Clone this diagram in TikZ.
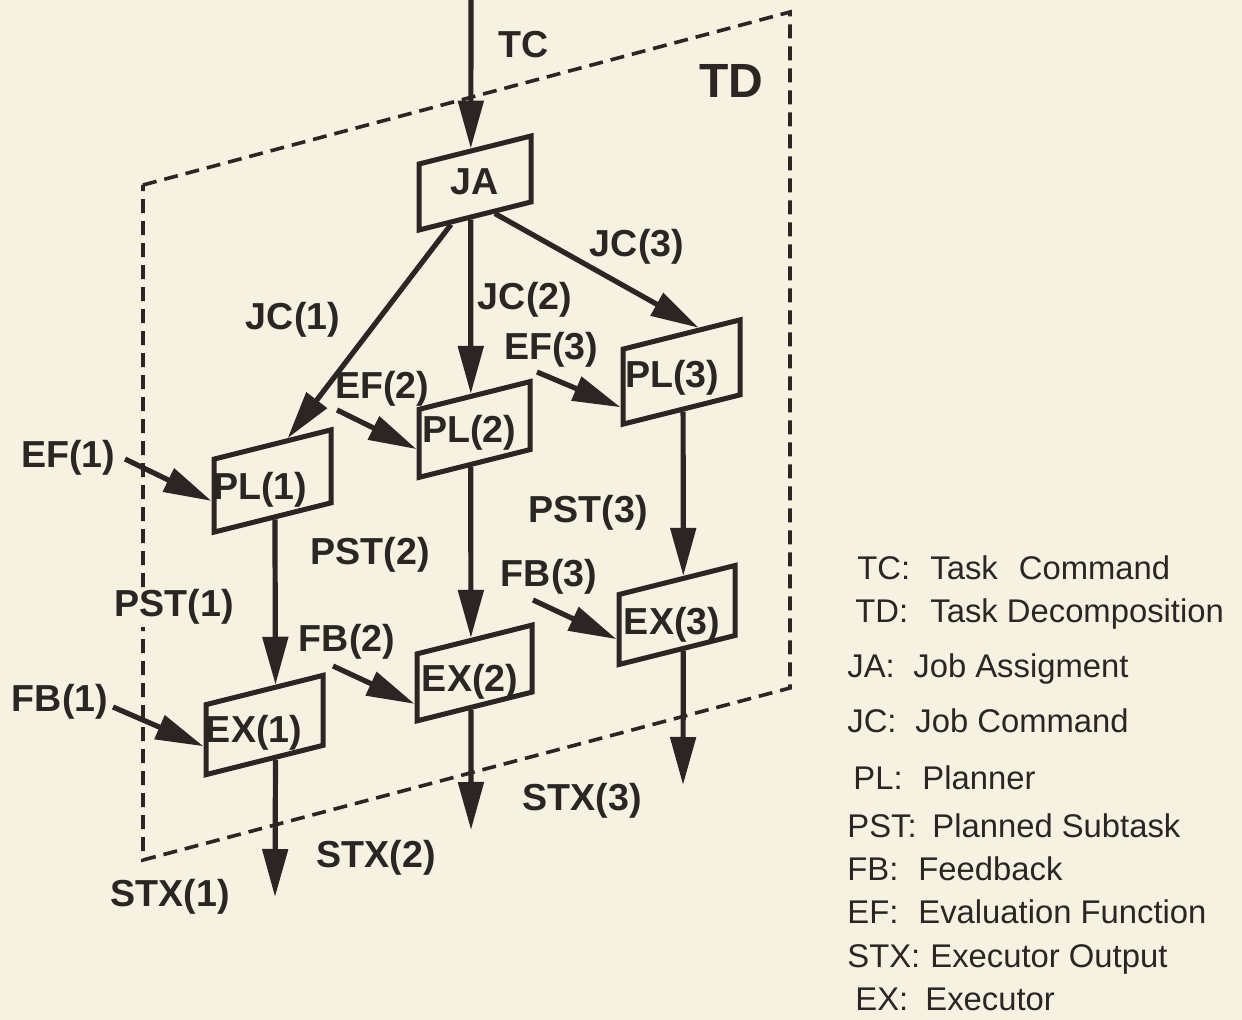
\documentclass[tikz,border=0pt]{standalone}
\usepackage{fontspec}
\setmainfont{Liberation Sans}
\usetikzlibrary{arrows.meta,calc}
\definecolor{bg}{HTML}{F6F2E1}
\definecolor{ink}{HTML}{2B2623}
\begin{document}
\begin{tikzpicture}[x=0.5pt,y=-0.5pt,
  lbl/.style={font=\fontsize{18.8}{20}\selectfont\bfseries, text=ink, inner sep=1pt, anchor=base, fill=bg},
  boxtext/.style={font=\fontsize{18.8}{20}\selectfont\bfseries, text=ink, inner sep=0pt, anchor=base},
  bigl/.style={font=\fontsize{24}{26}\selectfont\bfseries, text=ink, inner sep=0pt, anchor=base},
  leg/.style={font=\fontsize{16.4}{18}\selectfont, text=ink, anchor=base west, inner sep=0pt},
  pbox/.style={draw=ink, fill=bg, line width=2.5pt, yslant=0.25, transform shape, inner sep=0pt},
  arr/.style={draw=ink, line width=2.6pt, -{Triangle[length=24pt,width=12.5pt]}},
  plane/.style={draw=ink, line width=1.8pt, dash pattern=on 7pt off 4pt},
]
\useasboundingbox (0,0) rectangle (1242,1020);
\fill[bg] (0,0) rectangle (1242,1020);

% dashed plane TD
\coordinate (p1) at (143,185);
\coordinate (p2) at (790,12);
\coordinate (p3) at (790,688);
\coordinate (p4) at (143,860);
\draw[plane] (p1) -- (p2) -- (p3) -- (p4) -- cycle;

% labels
\node[lbl] (tc) at (524,58) {TC};
\node[bigl] (td) at (731,98) {TD};
\node[lbl] (jc1) at (293,330) {JC(1)};
\node[lbl] (jc2) at (525,310) {JC(2)};
\node[lbl] (jc3) at (637,257) {JC(3)};
\node[lbl] (ef1) at (68,468) {EF(1)};
\node[lbl] (ef2) at (382,399) {EF(2)};
\node[lbl] (ef3) at (551,360) {EF(3)};
\node[lbl] (pst1) at (174,617) {PST(1)};
\node[lbl] (pst2) at (370,565) {PST(2)};
\node[lbl] (pst3) at (588,523) {PST(3)};
\node[lbl] (fb1) at (60,712) {FB(1)};
\node[lbl] (fb2) at (347,652) {FB(2)};
\node[lbl] (fb3) at (549,587) {FB(3)};
\node[lbl] (stx1) at (170,906) {STX(1)};
\node[lbl] (stx2) at (376,867) {STX(2)};
\node[lbl] (stx3) at (582,810) {STX(3)};

% boxes
\node[pbox, minimum width=56pt, minimum height=33pt] (ja) at (475,183) {};
\node[pbox, minimum width=58.5pt, minimum height=36.5pt] (pl1) at (272.5,481) {};
\node[pbox, minimum width=55.5pt, minimum height=34pt] (pl2) at (474.5,429.5) {};
\node[pbox, minimum width=58.5pt, minimum height=37.5pt] (pl3) at (681.5,372) {};
\node[pbox, minimum width=58.5pt, minimum height=35pt] (ex1) at (264.5,725) {};
\node[pbox, minimum width=57.5pt, minimum height=33.5pt] (ex2) at (474.5,673) {};
\node[pbox, minimum width=58pt, minimum height=35pt] (ex3) at (677,615) {};

\node[boxtext] (jat) at (475,195) {JA};
\node[boxtext] (pl1t) at (260,500) {PL(1)};
\node[boxtext] (pl2t) at (469,443) {PL(2)};
\node[boxtext] (pl3t) at (672,388) {PL(3)};
\node[boxtext] (ex1t) at (254,743) {EX(1)};
\node[boxtext] (ex2t) at (470,692) {EX(2)};
\node[boxtext] (ex3t) at (672,635) {EX(3)};

% free ends
\coordinate (tcs) at (471,-10);
\coordinate (ef1s) at (125,459);
\coordinate (ef2s) at (337,410);
\coordinate (ef3s) at (537,372);
\coordinate (fb1s) at (113,707);
\coordinate (fb2s) at (333,666);
\coordinate (fb3s) at (533,600);
\coordinate (o1) at (275,897);
\coordinate (o2) at (471,830);
\coordinate (o3) at (683,785);

% connectors
\draw[arr] (tcs) -- ($(ja.north west)!0.464!(ja.north east)$);
\draw[arr] ($(ja.south west)!0.295!(ja.south east)$) -- ($(pl1.north west)!0.624!(pl1.north east)$);
\draw[arr] ($(ja.south west)!0.464!(ja.south east)$) -- ($(pl2.north west)!0.468!(pl2.north east)$);
\draw[arr] ($(ja.south west)!0.67!(ja.south east)$) -- ($(pl3.north west)!0.64!(pl3.north east)$);

\draw[arr] (ef1s) -- ($(pl1.north west)!0.56!(pl1.south west)$);
\draw[arr] (ef2s) -- ($(pl2.north west)!0.57!(pl2.south west)$);
\draw[arr] (ef3s) -- ($(pl3.north west)!0.75!(pl3.south west)$);

\draw[arr] ($(pl1.south west)!0.52!(pl1.south east)$) -- ($(ex1.north west)!0.59!(ex1.north east)$);
\draw[arr] ($(pl2.south west)!0.468!(pl2.south east)$) -- ($(ex2.north west)!0.47!(ex2.north east)$);
\draw[arr] ($(pl3.south west)!0.513!(pl3.south east)$) -- ($(ex3.north west)!0.552!(ex3.north east)$);

\draw[arr] (fb1s) -- ($(ex1.north west)!0.58!(ex1.south west)$);
\draw[arr] (fb2s) -- ($(ex2.north west)!0.72!(ex2.south west)$);
\draw[arr] (fb3s) -- ($(ex3.north west)!0.62!(ex3.south west)$);

\draw[arr] ($(ex1.south west)!0.59!(ex1.south east)$) -- (o1);
\draw[arr] ($(ex2.south west)!0.47!(ex2.south east)$) -- (o2);
\draw[arr] ($(ex3.south west)!0.552!(ex3.south east)$) -- (o3);

% legend
\node[leg] (ltc) at (857,580) {TC:};
\node[leg] (ltcd) at (930,580) {Task\hspace{10.5pt}Command};
\node[leg] (ltd) at (855,623) {TD:};
\node[leg] (ltdd) at (930,623) {Task Decomposition};
\node[leg] (lja) at (847,678) {JA:};
\node[leg] (ljad) at (913,678) {Job Assigment};
\node[leg] (ljc) at (847,733) {JC:};
\node[leg] (ljcd) at (915,733) {Job Command};
\node[leg] (lpl) at (853,790) {PL:};
\node[leg] (lpld) at (922,790) {Planner};
\node[leg] (lpst) at (847,837) {PST:};
\node[leg] (lpstd) at (932,837) {Planned Subtask};
\node[leg] (lfb) at (847,880) {FB:};
\node[leg] (lfbd) at (918,880) {Feedback};
\node[leg] (lef) at (847,923) {EF:};
\node[leg] (lefd) at (918,923) {Evaluation Function};
\node[leg] (lstx) at (847,967) {STX:};
\node[leg] (lstxd) at (930,967) {Executor Output};
\node[leg] (lex) at (855,1010) {EX:};
\node[leg] (lexd) at (925,1010) {Executor};
\end{tikzpicture}
\end{document}
